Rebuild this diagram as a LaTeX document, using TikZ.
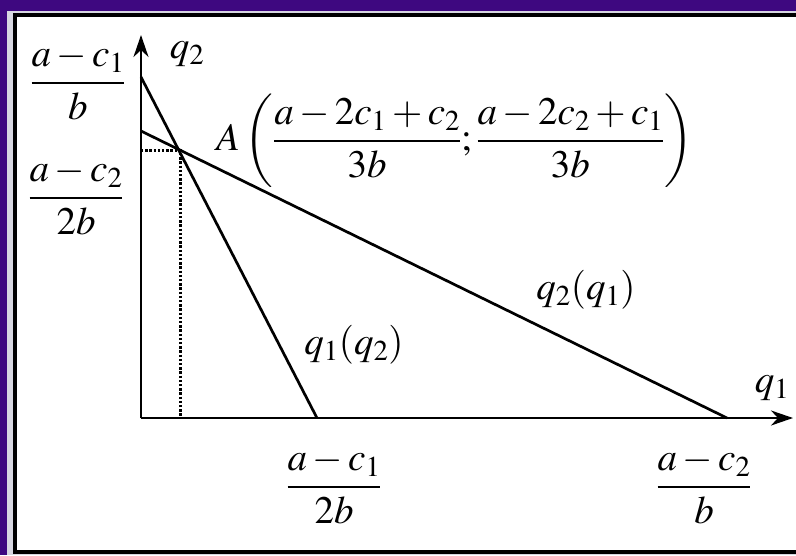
\documentclass[tikz,border=0pt]{standalone}
\usepackage{mathptmx}
\usetikzlibrary{arrows.meta}
\definecolor{frameviolet}{RGB}{62,8,128}
\definecolor{gapgray}{RGB}{215,215,225}
\begin{document}
\begin{tikzpicture}[x=1pt,y=-1pt,
  lbl/.style={inner sep=0pt, font=\fontsize{39}{46}\selectfont},
  curve/.style={line width=2.7pt},
  axis/.style={line width=2.5pt, -{Stealth[length=22pt,width=15pt,inset=7pt]}},
  guide/.style={line width=3pt, dash pattern=on 2.4pt off 1.8pt}]
\useasboundingbox (0,0) rectangle (796,555);
\fill[gapgray] (0,0) rectangle (796,555);
\fill[frameviolet] (0,0) rectangle (796,11);
\fill[frameviolet] (0,0) rectangle (7,555);
\fill[white] (15,15) rectangle (796,552);
\draw[line width=4pt] (796,15) -- (15,15) -- (15,552) -- (796,552);
% coordinates
\coordinate (O) at (141,418);
\coordinate (Ytip) at (141,35);
\coordinate (Xtip) at (793,418);
\coordinate (B1) at (141,77);
\coordinate (E1) at (317,418);
\coordinate (B2) at (141,131);
\coordinate (E2) at (727,418);
\coordinate (A) at (180,150);
\coordinate (Ay) at (141,150);
\coordinate (Ax) at (180,418);
% dotted guides
\draw[guide] (Ay) -- (A) -- (Ax);
% axes
\draw[axis] (O) -- (Ytip);
\draw[axis] (O) -- (Xtip);
% best responses
\draw[curve] (B1) -- (E1);
\draw[curve] (B2) -- (E2);
% labels
\node[lbl] (f1) at (78,82) {$\displaystyle\frac{a-c_1}{b}$};
\node[lbl] (f2) at (76,197) {$\displaystyle\frac{a-c_2}{2b}$};
\node[lbl] (q2) at (187,54) {$q_2$};
\node[lbl] (q1) at (772,388) {$q_1$};
\node[lbl,anchor=west] (Alab) at (216,141) {$A\left(\displaystyle\frac{a-2c_1+c_2}{3b};\frac{a-2c_2+c_1}{3b}\right)$};
\node[lbl] (r2) at (586,290) {$q_2(q_1)$};
\node[lbl] (r1) at (354,345) {$q_1(q_2)$};
\node[lbl] (f3) at (334,486) {$\displaystyle\frac{a-c_1}{2b}$};
\node[lbl] (f4) at (704,486) {$\displaystyle\frac{a-c_2}{b}$};
\end{tikzpicture}
\end{document}
